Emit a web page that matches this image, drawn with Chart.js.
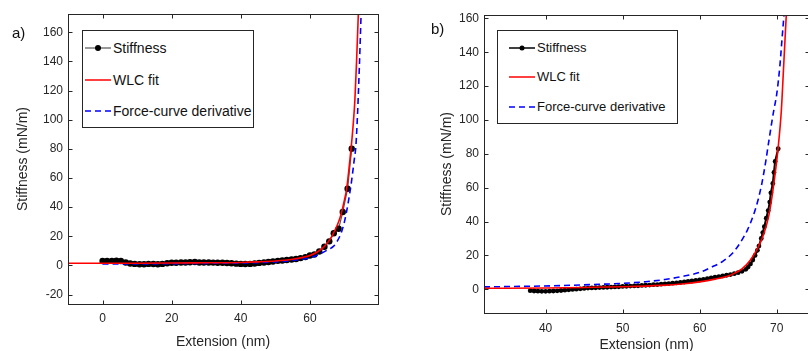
<!DOCTYPE html>
<html lang="en">
<head>
<meta charset="UTF-8"/>
<title>Stiffness vs extension</title>
<script src="https://cdn.jsdelivr.net/npm/chart.js@4"></script>
<style>
  * { box-sizing: border-box; margin: 0; padding: 0; }
  body { width: 808px; height: 351px; overflow: hidden; background: #fff; position: relative;
         font-family: 'Liberation Sans', Arial, sans-serif; color: #262626; }
  .panel { position: absolute; top: 0; height: 351px; }
  #panelA { left: 0; width: 400px; }
  #panelB { left: 400px; width: 420px; }
  .tag { position: absolute; font-size: 15px; line-height: 18px; color: #111; }
  .legend { position: absolute; background: #fff; border: 1.5px solid #262626; }
  .legend .row { position: absolute; left: 0; height: 20px; line-height: 20px; white-space: nowrap; color: #111; }
  .legend svg { position: absolute; top: 5px; }
  .legend span { position: absolute; top: 0; }
  #legendA { left: 82px; top: 30px; width: 172px; height: 98px; font-size: 14px; }
  #legendB { left: 497px; top: 30px; width: 181px; height: 94px; font-size: 13px; }
</style>
</head>
<body>

<div class="panel" id="panelA"><canvas id="chartA" width="400" height="351"></canvas></div>
<div class="panel" id="panelB"><canvas id="chartB" width="420" height="351"></canvas></div>

<div class="tag" style="left:12px; top:24px;">a)</div>
<div class="tag" style="left:431px; top:20px;">b)</div>

<!-- legend a) -->
<div class="legend" id="legendA">
  <div class="row" style="top:7px;">
    <svg width="26" height="10" style="left:2px"><line x1="0" y1="5" x2="26" y2="5" stroke="#555" stroke-width="1.2"/><circle cx="13" cy="5" r="3" fill="#000"/></svg>
    <span style="left:30px">Stiffness</span>
  </div>
  <div class="row" style="top:39px;">
    <svg width="26" height="10" style="left:2px"><line x1="0" y1="5" x2="26" y2="5" stroke="#f00" stroke-width="1.5"/></svg>
    <span style="left:30px">WLC fit</span>
  </div>
  <div class="row" style="top:70px;">
    <svg width="26" height="10" style="left:2px"><line x1="0" y1="5" x2="26" y2="5" stroke="#0000ff" stroke-width="1.5" stroke-dasharray="6,4"/></svg>
    <span style="left:30px">Force-curve derivative</span>
  </div>
</div>

<!-- legend b) -->
<div class="legend" id="legendB">
  <div class="row" style="top:7px;">
    <svg width="26" height="10" style="left:11px"><line x1="0" y1="5" x2="26" y2="5" stroke="#000" stroke-width="1.5"/><circle cx="13" cy="5" r="2.5" fill="#000"/></svg>
    <span style="left:39px">Stiffness</span>
  </div>
  <div class="row" style="top:36px;">
    <svg width="26" height="10" style="left:11px"><line x1="0" y1="5" x2="26" y2="5" stroke="#f00" stroke-width="1.5"/></svg>
    <span style="left:39px">WLC fit</span>
  </div>
  <div class="row" style="top:66px;">
    <svg width="26" height="10" style="left:11px"><line x1="0" y1="5" x2="26" y2="5" stroke="#0000ff" stroke-width="1.5" stroke-dasharray="6,4"/></svg>
    <span style="left:39px">Force-curve derivative</span>
  </div>
</div>

<script>
// ---- panel a) data ----
const stiffAx = [0, 1.3, 2.7, 4, 5.3, 6.7, 8, 9.3, 10.7, 12, 13.3, 14.7, 16, 17.3, 18.7, 20, 21.3, 22.7, 24, 25.3,
                 26.7, 28, 29.3, 30.7, 32, 33.3, 34.7, 36, 37.3, 38.7, 40, 41.3, 42.7, 44, 45.3, 46.7, 48, 49.3, 50.7, 52,
                 53.3, 54.7, 56, 57.3, 58.7, 60, 61.3, 62.7, 64.2, 65.6, 66.9, 68.3, 69.5, 70.9, 72.1];
const stiffAy = [3, 3, 3.1, 3.2, 3, 2, 1.3, 1, 0.8, 0.8, 1, 0.9, 0.8, 1, 1.5, 1.8, 1.8, 2, 2, 2.1,
                 2.3, 2, 2, 2, 1.9, 1.8, 1.8, 1.6, 1.5, 1.2, 1, 0.9, 1, 1.3, 1.7, 2, 2.3, 2.7, 3.1, 3.4,
                 3.7, 4, 4.4, 5, 5.7, 6.8, 7.5, 9.5, 12.8, 16.5, 22, 25.1, 36.6, 52.6, 80.1];
const wlcAx = [-10, 0, 10, 20, 30, 40, 45, 50, 55, 58, 60, 62, 64, 66, 67, 68, 69, 70, 70.6, 71.2, 71.9, 72.5, 73, 73.5, 74, 74.4];
const wlcAy = [1.5, 1.5, 1.5, 1.6, 1.8, 2.0, 2.4, 3.0, 4.2, 5.5, 6.8, 9, 12.5, 18.5, 23, 28, 35, 45, 52, 64, 80, 96, 113, 140, 172, 200];
const derivAx = [0, 10, 20, 30, 40, 50, 55, 60, 63, 65, 66.8, 68, 69, 70, 71, 72, 72.8, 73.3, 73.8, 74.3, 74.8, 75.1];
const derivAy = [1.0, 1.0, 1.2, 1.4, 1.6, 2.4, 3.4, 5.2, 8, 10.5, 13, 17, 22, 30, 42, 57, 72, 82, 105, 136, 172, 195];
const xTicksA = [0, 20, 40, 60];
const yTicksA = [-20, 0, 20, 40, 60, 80, 100, 120, 140, 160];

// ---- panel b) data ----
const stiffBx = [38, 38.5, 39, 39.5, 40, 40.5, 41, 41.5, 42, 42.5, 43, 43.5, 44, 44.5, 45, 45.5, 46, 46.5, 47, 47.5,
                 48, 48.5, 49, 49.5, 50, 50.5, 51, 51.5, 52, 52.5, 53, 53.5, 54, 54.5, 55, 55.5, 56, 56.5, 57, 57.5,
                 58, 58.5, 59, 59.5, 60, 60.5, 61, 61.5, 62, 62.5, 63, 63.5, 64, 64.5, 65, 65.5, 66, 66.3, 66.6, 66.9,
                 67.2, 67.5, 67.7, 68, 68.2, 68.4, 68.65, 68.9, 69.1, 69.25, 69.5, 69.65, 69.8, 70.2];
const stiffBy = [-0.8, -1.0, -1.1, -1.2, -1.2, -1.1, -1.0, -0.9, -0.7, -0.5, -0.3, -0.1, 0.1, 0.3, 0.5, 0.7, 0.8, 0.9, 1.0, 1.1,
                 1.2, 1.3, 1.4, 1.5, 1.7, 1.8, 1.9, 2.0, 2.1, 2.3, 2.4, 2.5, 2.7, 2.8, 3.0, 3.2, 3.4, 3.6, 3.8, 4.0,
                 4.3, 4.6, 4.9, 5.2, 5.5, 5.9, 6.3, 6.7, 7.1, 7.5, 7.9, 8.3, 8.7, 9.2, 9.8, 10.6, 11.8, 13.2, 15, 17.3,
                 20, 23, 25.5, 30, 33.5, 37, 42, 46.5, 51.5, 57, 62.5, 69, 75.5, 83];
const wlcBx = [32, 40, 45, 50, 55, 58, 60, 62, 63.5, 64.5, 65.5, 66.6, 67.5, 68.35, 69, 69.5, 70.2, 70.6, 70.9, 71.25, 71.5];
const wlcBy = [0.6, 0.8, 1.1, 1.5, 2.3, 3.3, 4.4, 6, 7.6, 9.4, 12, 17.3, 24, 33, 44, 58, 84, 105, 131, 162, 185];
const derivBx = [32, 38, 42, 46, 50, 53, 55.5, 58, 60, 61.5, 63, 64.2, 65.2, 66.2, 67, 67.6, 68.1, 68.6, 69, 69.6, 70, 70.4, 70.7, 70.95, 71.1];
const derivBy = [1.4, 1.8, 2.2, 2.8, 3.5, 4.5, 5.8, 7.8, 10, 13, 16.5, 21, 27, 35, 44, 53, 63, 76, 88, 105, 115, 131, 148, 162, 172];
const xTicksB = [40, 50, 60, 70];
const yTicksB = [0, 20, 40, 60, 80, 100, 120, 140, 160];

const pts = (xs, ys) => xs.map((x, i) => ({ x, y: ys[i] }));
const AXIS = '#262626';

// MATLAB-style box with inward tick marks on every side
const boxTicks = {
  id: 'boxTicks',
  afterDatasetsDraw(chart) {
    const { ctx, chartArea: a, scales: { x, y } } = chart;
    const L = Math.round(a.left) + 0.5, R = Math.round(a.right) + 0.5;
    const T = Math.round(a.top) + 0.5, B = Math.round(a.bottom) + 0.5;
    ctx.save();
    ctx.strokeStyle = AXIS;
    ctx.lineWidth = 1;
    ctx.strokeRect(L, T, R - L, B - T);
    ctx.beginPath();
    x.ticks.forEach(t => {
      const px = Math.round(x.getPixelForValue(t.value)) + 0.5;
      ctx.moveTo(px, B); ctx.lineTo(px, B - 4);
      ctx.moveTo(px, T); ctx.lineTo(px, T + 4);
    });
    y.ticks.forEach(t => {
      const py = Math.round(y.getPixelForValue(t.value)) + 0.5;
      ctx.moveTo(L, py); ctx.lineTo(L + 4, py);
      ctx.moveTo(R, py); ctx.lineTo(R - 4, py);
    });
    ctx.stroke();
    ctx.restore();
  }
};

function makeChart(id, o) {
  const font = { family: "'Liberation Sans', Arial, sans-serif", size: 12 };
  const titleFont = { family: "'Liberation Sans', Arial, sans-serif", size: 14 };
  return new Chart(document.getElementById(id), {
    type: 'scatter',
    data: {
      datasets: [{
        label: 'Stiffness',
        data: pts(o.sx, o.sy),
        showLine: true,
        borderColor: o.stiffLine,
        borderWidth: o.stiffWidth,
        pointRadius: o.dot,
        pointBackgroundColor: '#000',
        pointBorderColor: '#000',
        pointBorderWidth: 0,
        clip: 0,
        order: 3
      }, {
        label: 'WLC fit',
        data: pts(o.wx, o.wy),
        showLine: true,
        borderColor: '#ff0000',
        borderWidth: 1.6,
        pointRadius: 0,
        cubicInterpolationMode: 'monotone',
        clip: 0,
        order: 1
      }, {
        label: 'Force-curve derivative',
        data: pts(o.dx, o.dy),
        showLine: true,
        borderColor: '#0000ff',
        borderWidth: 1.6,
        borderDash: [6, 4],
        pointRadius: 0,
        cubicInterpolationMode: 'monotone',
        clip: 0,
        order: 2
      }]
    },
    options: {
      responsive: false,
      animation: false,
      events: [],
      layout: { padding: o.pad },
      plugins: { legend: { display: false }, tooltip: { enabled: false } },
      scales: {
        x: {
          type: 'linear', min: o.xMin, max: o.xMax,
          grid: { display: false, drawTicks: false }, border: { display: false },
          afterBuildTicks: s => { s.ticks = o.xTicks.map(v => ({ value: v })); },
          afterFit: s => { s.height = o.xH; },
          ticks: { font, color: AXIS, padding: o.xPad, maxRotation: 0, autoSkip: false, callback: v => String(v) },
          title: { display: true, text: 'Extension (nm)', font: titleFont, color: AXIS, padding: { top: 0, bottom: o.xTitlePad } }
        },
        y: {
          type: 'linear', min: o.yMin, max: o.yMax,
          grid: { display: false, drawTicks: false }, border: { display: false },
          afterBuildTicks: s => { s.ticks = o.yTicks.map(v => ({ value: v })); },
          afterFit: s => { s.width = o.yW; },
          ticks: { font, color: AXIS, padding: 5, autoSkip: false, callback: v => String(v) },
          title: { display: true, text: 'Stiffness (mN/m)', font: titleFont, color: AXIS, padding: { top: o.yTitlePad, bottom: 0 } }
        }
      }
    },
    plugins: [boxTicks]
  });
}

makeChart('chartA', {
  sx: stiffAx, sy: stiffAy, wx: wlcAx, wy: wlcAy, dx: derivAx, dy: derivAy,
  stiffLine: '#555', stiffWidth: 1.2, dot: 3.2,
  xMin: -10, xMax: 79.7, yMin: -26.5, yMax: 172.5,
  xTicks: xTicksA, yTicks: yTicksA,
  pad: { left: 0, right: 22, top: 14, bottom: 0 },
  yW: 68, xH: 47, xPad: 7, xTitlePad: 0, yTitlePad: 15
});

makeChart('chartB', {
  sx: stiffBx, sy: stiffBy, wx: wlcBx, wy: wlcBy, dx: derivBx, dy: derivBy,
  stiffLine: '#000', stiffWidth: 2, dot: 2.4,
  xMin: 32, xMax: 74.2, yMin: -14, yMax: 162,
  xTicks: xTicksB, yTicks: yTicksB,
  pad: { left: 0, right: 11, top: 15, bottom: 0 },
  yW: 84, xH: 38, xPad: 8, xTitlePad: -3, yTitlePad: 39
});
</script>

</body>
</html>
